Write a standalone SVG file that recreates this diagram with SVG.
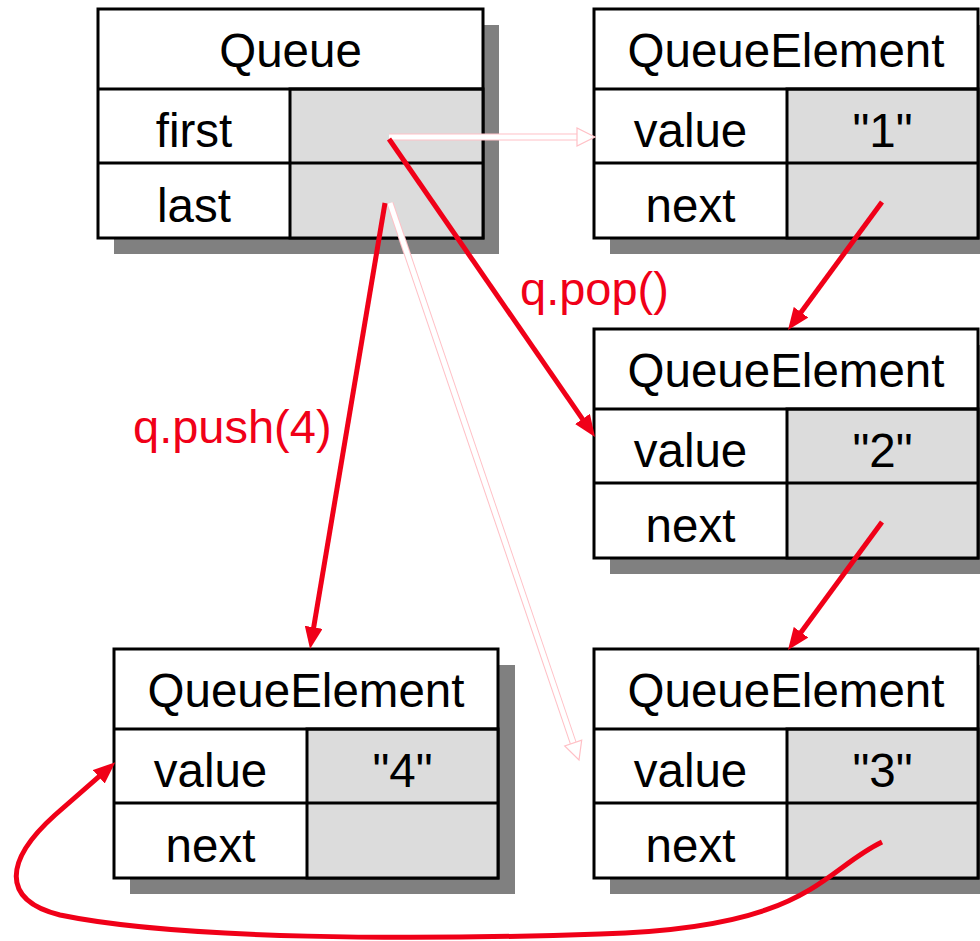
<svg xmlns="http://www.w3.org/2000/svg" width="980" height="941" viewBox="0 0 980 941">
<style>
.sh{fill:#808080}
.bx{fill:#fff;stroke:#000;stroke-width:3}
.cell{fill:#dcdcdc;stroke:#000;stroke-width:3}
.ln{stroke:#000;stroke-width:3}
.t{font-family:"Liberation Sans",Arial,sans-serif;font-size:47.5px;fill:#000;text-anchor:middle}
.lbl{font-family:"Liberation Sans",Arial,sans-serif;font-size:47px;fill:#f00018}
.red{fill:none;stroke:#f00018;stroke-width:5;marker-end:url(#ah)}
.hpo{fill:none;stroke:#ffc0c6;stroke-width:7}
.hpi{fill:none;stroke:#fff;stroke-width:5}
.hh{fill:#fff;stroke:#ffc0c6;stroke-width:1.2}
</style>
<defs>
<marker id="ah" markerUnits="userSpaceOnUse" viewBox="0 0 22 18" refX="12" refY="9" markerWidth="22" markerHeight="18" orient="auto">
<path d="M0,0 L22,9 L0,18 Z" fill="#f00018"/>
</marker>
</defs>
<rect width="980" height="941" fill="#fff"/>

<g id="queue">
<rect class="sh" x="114" y="25" width="385" height="229"/>
<rect class="bx" x="98" y="9" width="385" height="229"/>
<rect class="cell" x="290" y="89" width="193" height="149"/>
<line class="ln" x1="98" y1="89" x2="483" y2="89"/>
<line class="ln" x1="98" y1="163" x2="483" y2="163"/>
<text class="t" x="290.5" y="67">Queue</text>
<text class="t" x="194" y="147">first</text>
<text class="t" x="194" y="222">last</text>
</g>

<g id="qe1">
<rect class="sh" x="610" y="25" width="384" height="229"/>
<rect class="bx" x="594" y="9" width="384" height="229"/>
<rect class="cell" x="787" y="89" width="191" height="149"/>
<line class="ln" x1="594" y1="89" x2="978" y2="89"/>
<line class="ln" x1="594" y1="163" x2="978" y2="163"/>
<text class="t" x="786" y="67">QueueElement</text>
<text class="t" x="690.5" y="147">value</text>
<text class="t" x="882.5" y="147">"1"</text>
<text class="t" x="690.5" y="222">next</text>
</g>

<g id="qe2">
<rect class="sh" x="610" y="345" width="384" height="229"/>
<rect class="bx" x="594" y="329" width="384" height="229"/>
<rect class="cell" x="787" y="409" width="191" height="149"/>
<line class="ln" x1="594" y1="409" x2="978" y2="409"/>
<line class="ln" x1="594" y1="483" x2="978" y2="483"/>
<text class="t" x="786" y="387">QueueElement</text>
<text class="t" x="690.5" y="467">value</text>
<text class="t" x="882.5" y="467">"2"</text>
<text class="t" x="690.5" y="542">next</text>
</g>

<g id="qe3">
<rect class="sh" x="610" y="665" width="384" height="229"/>
<rect class="bx" x="594" y="649" width="384" height="229"/>
<rect class="cell" x="787" y="729" width="191" height="149"/>
<line class="ln" x1="594" y1="729" x2="978" y2="729"/>
<line class="ln" x1="594" y1="803" x2="978" y2="803"/>
<text class="t" x="786" y="707">QueueElement</text>
<text class="t" x="690.5" y="787">value</text>
<text class="t" x="882.5" y="787">"3"</text>
<text class="t" x="690.5" y="862">next</text>
</g>

<g id="qe4">
<rect class="sh" x="130" y="665" width="385" height="229"/>
<rect class="bx" x="114" y="649" width="384" height="229"/>
<rect class="cell" x="307" y="729" width="191" height="149"/>
<line class="ln" x1="114" y1="729" x2="498" y2="729"/>
<line class="ln" x1="114" y1="803" x2="498" y2="803"/>
<text class="t" x="306" y="707">QueueElement</text>
<text class="t" x="210.5" y="787">value</text>
<text class="t" x="402.5" y="787">"4"</text>
<text class="t" x="210.5" y="862">next</text>
</g>

<g id="connectors">
<g id="first-old">
<line class="hpo" x1="389" y1="137" x2="578" y2="137"/>
<line class="hpi" x1="389" y1="137" x2="579" y2="137"/>
<polygon class="hh" points="595,137 577,128 577,146"/>
</g>
<g id="last-old">
<line class="hpo" x1="390" y1="203" x2="573.2" y2="743"/>
<line class="hpi" x1="390" y1="203" x2="573.6" y2="744"/>
<polygon class="hh" points="579,760 581.7,740.1 564.7,745.9"/>
</g>
<path class="red" d="M389,139 L589.3,428.8"/>
<path class="red" d="M385,203 L311.7,639.1"/>
<path class="red" d="M882,202 L793.9,321.9"/>
<path class="red" d="M882,522 L793.9,641.9"/>
<path class="red" d="M882,842 C820,872 810,928 600,934 C420,940 180,940 60,915 C0,900 5,860 55,815 L107.8,768.9"/>
<text class="lbl" x="520" y="305">q.pop()</text>
<text class="lbl" x="133" y="443">q.push(4)</text>
</g>
</svg>
